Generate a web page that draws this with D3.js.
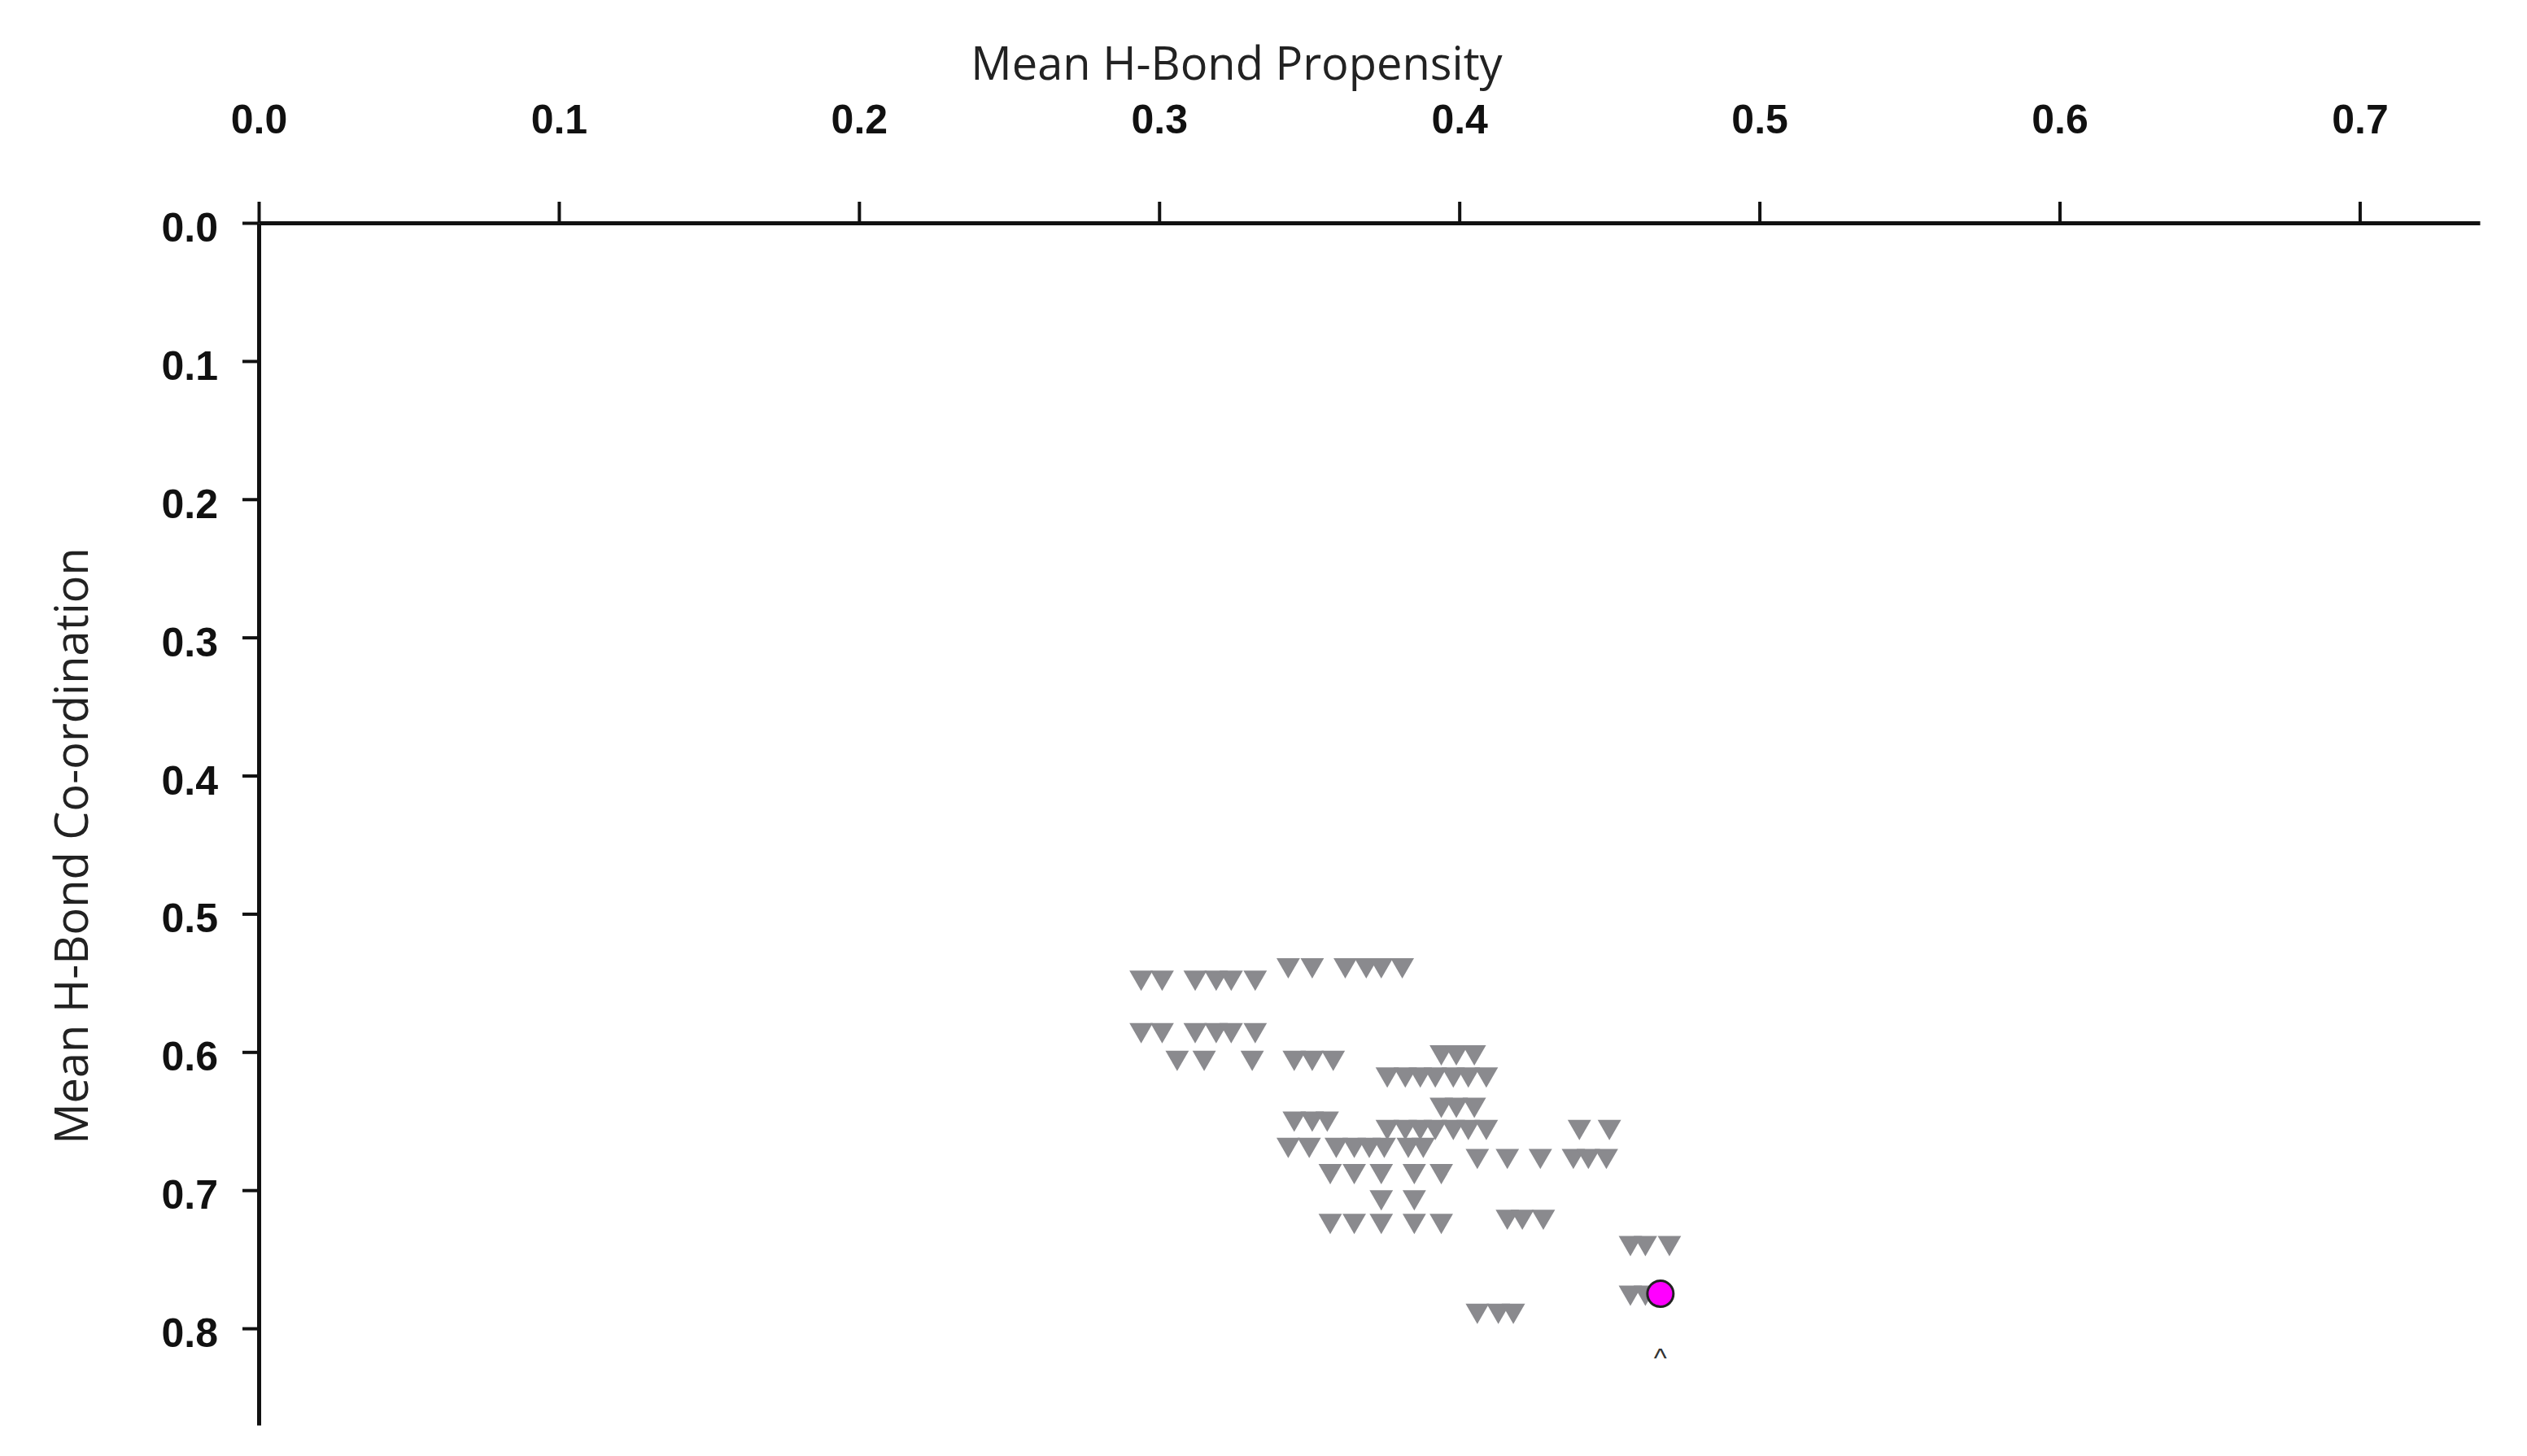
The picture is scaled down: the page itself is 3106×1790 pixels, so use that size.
<!DOCTYPE html>
<html>
<head>
<meta charset="utf-8">
<script src="https://cdn.jsdelivr.net/npm/d3@7"></script>
<style>
  body { margin: 0; background: #fff; }
  .tick text { font-family: "Liberation Sans", Arial, sans-serif; font-weight: bold; font-size: 50px; fill: #111; }
  .axisTitle { font-family: "Open Sans", sans-serif; font-size: 56px; fill: #222; }
</style>
</head>
<body>
<div id="chart"></div>
<script>
// Data: [propensity, co-ordination]
var propX = [0.343, 0.351, 0.362, 0.369, 0.374, 0.381,
             0.294, 0.301, 0.312, 0.319, 0.324, 0.332,
             0.294, 0.301, 0.312, 0.319, 0.324, 0.332,
             0.306, 0.315, 0.331, 0.345, 0.351, 0.358,
             0.394, 0.399, 0.405,
             0.376, 0.382, 0.387, 0.392, 0.398, 0.403, 0.409,
             0.394, 0.399, 0.405,
             0.345, 0.351, 0.356,
             0.376, 0.382, 0.387, 0.392, 0.398, 0.403, 0.409, 0.440, 0.450,
             0.343, 0.350, 0.359, 0.365, 0.370, 0.375, 0.383, 0.388,
             0.406, 0.416, 0.427, 0.438, 0.443, 0.449,
             0.357, 0.365, 0.374, 0.385, 0.394,
             0.374, 0.385,
             0.357, 0.365, 0.374, 0.385, 0.394,
             0.416, 0.421, 0.428,
             0.457, 0.462, 0.470,
             0.457, 0.462,
             0.406, 0.413, 0.418];
var coordY = [0.537, 0.537, 0.537, 0.537, 0.537, 0.537,
              0.546, 0.546, 0.546, 0.546, 0.546, 0.546,
              0.584, 0.584, 0.584, 0.584, 0.584, 0.584,
              0.604, 0.604, 0.604, 0.604, 0.604, 0.604,
              0.600, 0.600, 0.600,
              0.616, 0.616, 0.616, 0.616, 0.616, 0.616, 0.616,
              0.638, 0.638, 0.638,
              0.648, 0.648, 0.648,
              0.654, 0.654, 0.654, 0.654, 0.654, 0.654, 0.654, 0.654, 0.654,
              0.667, 0.667, 0.667, 0.667, 0.667, 0.667, 0.667, 0.667,
              0.675, 0.675, 0.675, 0.675, 0.675, 0.675,
              0.686, 0.686, 0.686, 0.686, 0.686,
              0.705, 0.705,
              0.722, 0.722, 0.722, 0.722, 0.722,
              0.719, 0.719, 0.719,
              0.738, 0.738, 0.738,
              0.774, 0.774,
              0.787, 0.787, 0.787];
var targetX = [0.467];
var targetY = [0.775];
var tickValues = [0.0, 0.1, 0.2, 0.3, 0.4, 0.5, 0.6, 0.7];
var yTickValues = [0.0, 0.1, 0.2, 0.3, 0.4, 0.5, 0.6, 0.7, 0.8];

var svgWidth = 3106, svgHeight = 1790;
var svg = d3.select("#chart").append("svg")
    .attr("width", svgWidth).attr("height", svgHeight);

var x = d3.scaleLinear().domain([0, 0.74]).range([318, 3048]);
var y = d3.scaleLinear().domain([0, 0.87]).range([274, 1752]);

// Axes
var xAxis = svg.append("g")
    .attr("transform", `translate(0, ${y(0)})`)
    .call(d3.axisTop(x).tickValues(tickValues).tickFormat(d3.format(".1f")).tickSize(26).tickPadding(84).tickSizeOuter(0));
var yAxis = svg.append("g")
    .attr("transform", `translate(${x(0)}, 0)`)
    .call(d3.axisLeft(y).tickValues(yTickValues).tickFormat(d3.format(".1f")).tickSize(20).tickPadding(30).tickSizeOuter(0));
svg.selectAll(".domain").attr("stroke", "#111").attr("stroke-width", 5);
svg.selectAll(".tick line").attr("stroke", "#111").attr("stroke-width", 4);
yAxis.selectAll(".tick text").attr("dy", "0.45em");

// Axis titles
svg.append("text").attr("class", "axisTitle")
    .attr("x", 1520).attr("y", 98).attr("text-anchor", "middle")
    .text("Mean H-Bond Propensity");
svg.append("text").attr("class", "axisTitle")
    .attr("transform", `translate(108, 1040) rotate(-90)`)
    .attr("text-anchor", "middle")
    .text("Mean H-Bond Co-ordination");

// Triangles
var tri = d3.symbol().type(d3.symbolTriangle).size(360);
svg.append("g").selectAll("path")
    .data(d3.range(propX.length))
    .enter().append("path")
    .attr("d", tri)
    .attr("transform", i => `translate(${x(propX[i])}, ${y(coordY[i])}) rotate(180)`)
    .attr("fill", "#8a8a8e");

// Highlighted point
svg.append("g").selectAll("circle")
    .data(d3.range(targetX.length))
    .enter().append("circle")
    .attr("cx", i => x(targetX[i]))
    .attr("cy", i => y(targetY[i]))
    .attr("r", 16)
    .attr("fill", "#ff00ff")
    .attr("stroke", "#222")
    .attr("stroke-width", 3);

svg.append("text")
    .attr("x", x(targetX[0])).attr("y", y(targetY[0]) + 90)
    .attr("text-anchor", "middle")
    .attr("font-family", "Liberation Sans, sans-serif")
    .attr("font-size", 34).attr("fill", "#333")
    .text("^");
</script>
</body>
</html>
